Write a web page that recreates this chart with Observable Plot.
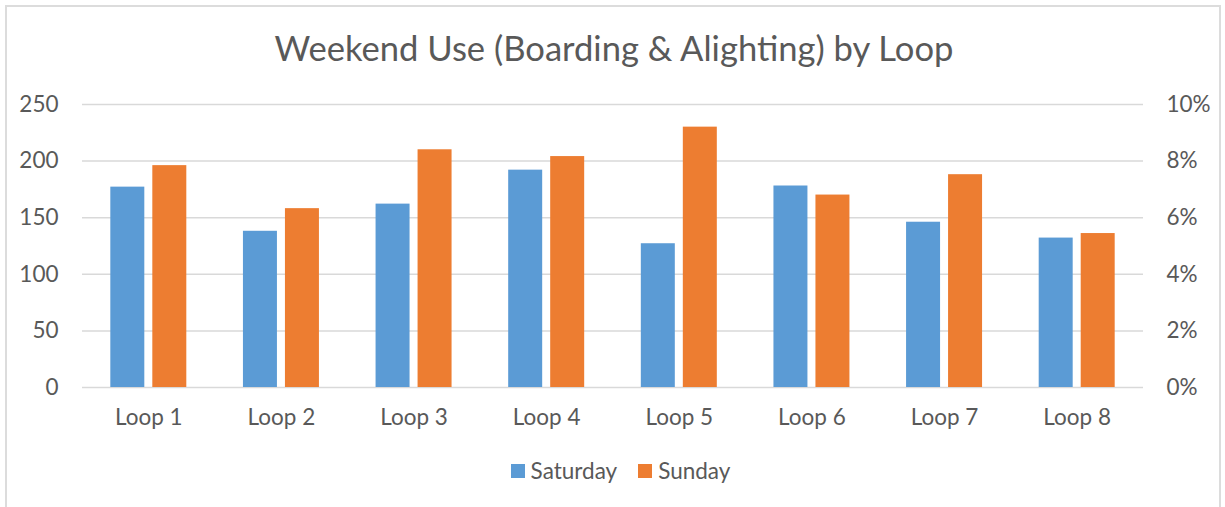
<!DOCTYPE html>
<html>
<head>
<meta charset="utf-8">
<script src="https://cdn.jsdelivr.net/npm/d3@7"></script>
<script src="https://cdn.jsdelivr.net/npm/@observablehq/plot@0.6"></script>
<style>
  html, body { margin: 0; padding: 0; background: #fff; }
  #wrap { position: relative; width: 1225px; height: 507px; overflow: hidden; font-family: Lato, "Open Sans", sans-serif; color: #595959; }
  #frame { position: absolute; left: 5px; top: 5px; width: 1216px; height: 520px; border: 2px solid #dcdcdc; box-sizing: border-box; }
  #title { position: absolute; left: 0; width: 1228px; top: 28px; text-align: center; font-size: 34.6px; line-height: 40px; }
  #chart { position: absolute; left: 0; top: 80px; }
  #legend { position: absolute; left: 8px; width: 1225px; top: 458px; display: flex; justify-content: center; gap: 21px; font-size: 22.5px; line-height: 26px; }
  .item { display: flex; align-items: center; gap: 6px; }
  .sw { width: 14px; height: 14px; display: inline-block; }
</style>
</head>
<body>
<div id="wrap">
  <div id="frame"></div>
  <div id="title">Weekend Use (Boarding &amp; Alighting) by Loop</div>
  <div id="chart"></div>
  <div id="legend"></div>
</div>
<script>
const loops = ["Loop 1", "Loop 2", "Loop 3", "Loop 4", "Loop 5", "Loop 6", "Loop 7", "Loop 8"];
const saturday = [177, 138, 162, 192, 127, 178, 146, 132];
const sunday = [196, 158, 210, 204, 230, 170, 188, 136];
const leftTicks = [0, 50, 100, 150, 200, 250];
const rightTickLabels = ["0%", "2%", "4%", "6%", "8%", "10%"];
const seriesNames = ["Saturday", "Sunday"];
const seriesColors = ["#5B9BD5", "#ED7D31"];

const rows = loops.map((l, i) => ({loop: l, saturday: saturday[i], sunday: sunday[i]}));

const chart = Plot.plot({
  width: 1225,
  height: 357,
  marginLeft: 82,
  marginRight: 82,
  marginTop: 24,
  marginBottom: 50,
  style: {fontFamily: "Lato, 'Open Sans', sans-serif", fontSize: "22.5px", color: "#595959", background: "transparent"},
  x: {domain: loops, paddingInner: 0.427, paddingOuter: 0.2135, round: false, label: null},
  y: {domain: [0, 250], label: null},
  marks: [
    Plot.ruleY(leftTicks, {stroke: "#d9d9d9", strokeWidth: 1.5}),
    Plot.barY(rows, {x: "loop", y: "saturday", fill: seriesColors[0], insetRight: 42}),
    Plot.barY(rows, {x: "loop", y: "sunday", fill: seriesColors[1], insetLeft: 42}),
    Plot.axisY(leftTicks, {anchor: "left", tickSize: 0, tickPadding: 24, label: null}),
    Plot.axisY(leftTicks, {anchor: "right", tickSize: 0, tickPadding: 23, label: null,
      tickFormat: d => rightTickLabels[leftTicks.indexOf(d)]}),
    Plot.axisX({anchor: "bottom", tickSize: 0, tickPadding: 22, label: null})
  ]
});
document.getElementById("chart").appendChild(chart);

const legend = document.getElementById("legend");
seriesNames.forEach((name, i) => {
  const item = document.createElement("div");
  item.className = "item";
  const sw = document.createElement("span");
  sw.className = "sw";
  sw.style.background = seriesColors[i];
  const t = document.createElement("span");
  t.textContent = name;
  item.appendChild(sw);
  item.appendChild(t);
  legend.appendChild(item);
});
</script>
</body>
</html>
